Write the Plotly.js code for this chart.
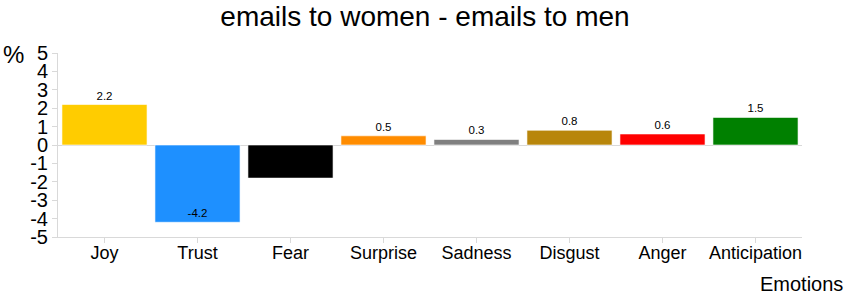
<!DOCTYPE html>
<html><head><meta charset="utf-8">
<script src="https://cdn.plot.ly/plotly-3.0.1.min.js"></script>
<style>html,body{margin:0;padding:0;background:#fff}</style>
</head><body>
<div id="chart" style="width:850px;height:300px"></div>
<script>
const categories = ["Joy","Trust","Fear","Surprise","Sadness","Disgust","Anger","Anticipation"];
const values = [2.2, -4.2, -1.8, 0.5, 0.3, 0.8, 0.6, 1.5];
const colors = ["#FFCC00","#1E90FF","#000000","#FF8C00","#808080","#B8860B","#FF0000","#008000"];
const textPositions = ["outside","inside","inside","outside","outside","outside","outside","outside"];
const yTicks = [-5,-4,-3,-2,-1,0,1,2,3,4,5];

const font = "Liberation Sans, Arial, sans-serif";
const trace = {
  type: "bar",
  x: categories,
  y: values,
  marker: {color: colors, line: {color: "rgba(255,255,255,0.6)", width: 1}},
  text: values.map(v => v.toFixed(1)),
  textposition: textPositions,
  insidetextanchor: "end",
  textfont: {family: font, size: 11.5, color: "#000"},
  insidetextfont: {family: font, size: 11.5, color: "#000"},
  outsidetextfont: {family: font, size: 11.5, color: "#000"},
  cliponaxis: false,
  hoverinfo: "none"
};
const layout = {
  width: 850, height: 300,
  margin: {l: 58, r: 48, t: 53, b: 63},
  paper_bgcolor: "#fff", plot_bgcolor: "#fff",
  bargap: 0.085,
  showlegend: false,
  font: {family: font, color: "#000"},
  title: {text: "emails to women - emails to men", font: {family: font, size: 28, color: "#000"}, x: 0.5, xanchor: "center", y: 0.945, yanchor: "middle"},
  xaxis: {
    type: "category",
    showline: true, linecolor: "#d9d9d9", linewidth: 1,
    ticks: "outside", ticklen: 5, tickcolor: "#d9d9d9",
    ticklabelstandoff: -6,
    tickfont: {family: font, size: 18, color: "#000"},
    showgrid: false, zeroline: false
  },
  yaxis: {
    range: [-5, 5], tickvals: yTicks, ticktext: yTicks.map(String),
    showline: true, linecolor: "#d9d9d9", linewidth: 1,
    ticks: "outside", ticklen: 5, tickcolor: "#d9d9d9",
    tickfont: {family: font, size: 20, color: "#000"},
    showgrid: false, zeroline: true, zerolinecolor: "#d9d9d9", zerolinewidth: 1
  },
  annotations: [
    {text: "Emotions", xref: "paper", yref: "paper", x: 1.058, y: -0.255, xanchor: "right", yanchor: "middle", showarrow: false, font: {family: font, size: 20, color: "#000"}},
    {text: "%", xref: "paper", yref: "paper", x: -0.06, y: 0.99, xanchor: "center", yanchor: "middle", showarrow: false, font: {family: font, size: 24, color: "#000"}}
  ]
};
Plotly.newPlot("chart", [trace], layout, {displayModeBar: false, staticPlot: true});
</script>
</body></html>
